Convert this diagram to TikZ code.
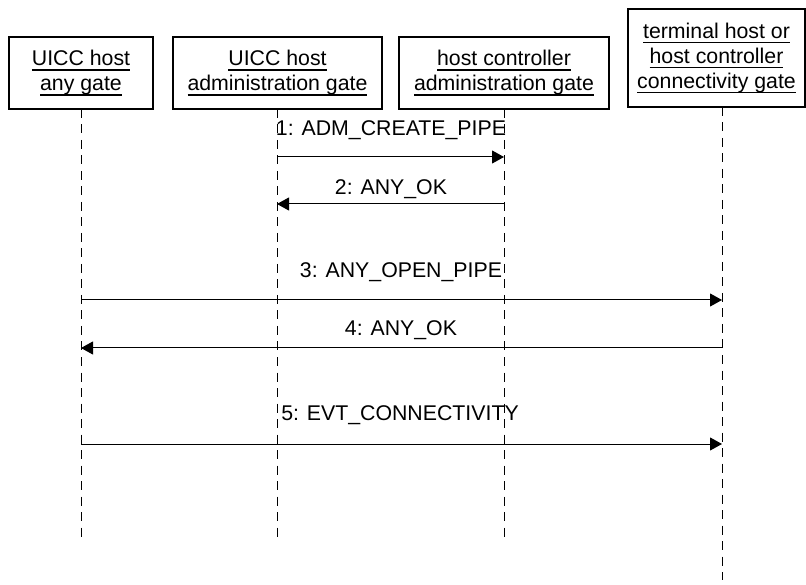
\documentclass[tikz,border=0pt]{standalone}
\usepackage{fontspec}
\setmainfont{Liberation Sans}
\usetikzlibrary{arrows.meta}
\newsavebox\ulbox
\newcommand{\ulin}[1]{\sbox\ulbox{#1}\rlap{\rule[-4.8pt]{\wd\ulbox}{1.2pt}}\usebox\ulbox}
\begin{document}
\begin{tikzpicture}[x=1pt,y=-1pt,
  every node/.style={font=\fontsize{21.3}{25}\selectfont},
  obj/.style={draw, line width=1.1pt, align=center, inner sep=0pt, minimum height=72pt},
  life/.style={line width=1pt, dash pattern=on 9pt off 6.5pt},
  msg/.style={line width=1pt, -{Triangle[length=12pt,width=13pt]}},
  lbl/.style={anchor=base, inner sep=0pt}]
\useasboundingbox (0,0) rectangle (806,585);
% objects
\node[obj, minimum width=144pt] (b1) at (81,73) {\ulin{UICC host}\\\ulin{any gate}};
\node[obj, minimum width=209pt] (b2) at (277.5,73) {\ulin{UICC host}\\\ulin{administration gate}};
\node[obj, minimum width=210pt] (b3) at (504,73) {\ulin{host controller}\\\ulin{administration gate}};
\node[obj, minimum width=177pt, minimum height=98pt] (b4) at (716.5,58) {\ulin{terminal host or}\\\ulin{host controller}\\\ulin{connectivity gate}};
% lifelines
\coordinate (l1t) at (81,109);  \coordinate (l1b) at (81,537);
\coordinate (l2t) at (277,109); \coordinate (l2b) at (277,537);
\coordinate (l3t) at (504,109); \coordinate (l3b) at (504,537);
\coordinate (l4t) at (722,107); \coordinate (l4b) at (722,580);
\draw[life] (l1t) -- (l1b);
\draw[life] (l2t) -- (l2b);
\draw[life] (l3t) -- (l3b);
\draw[life] (l4t) -- (l4b);
% message points
\coordinate (m1a) at (277,157); \coordinate (m1b) at (504,157);
\coordinate (m2a) at (504,204); \coordinate (m2b) at (277,204);
\coordinate (m3a) at (81,300);  \coordinate (m3b) at (722,300);
\coordinate (m4a) at (722,348); \coordinate (m4b) at (81,348);
\coordinate (m5a) at (81,444);  \coordinate (m5b) at (722,444);
\draw[msg] (m1a) -- (m1b);
\draw[msg] (m2a) -- (m2b);
\draw[msg] (m3a) -- (m3b);
\draw[msg] (m4a) -- (m4b);
\draw[msg] (m5a) -- (m5b);
% labels
\node[lbl] (t1) at (391,135.6) {1: ADM\_CREATE\_PIPE};
\node[lbl] (t2) at (391,194.6) {2: ANY\_OK};
\node[lbl] (t3) at (401,277.6) {3: ANY\_OPEN\_PIPE};
\node[lbl] (t4) at (401,335.6) {4: ANY\_OK};
\node[lbl] (t5) at (400,420.6) {5: EVT\_CONNECTIVITY};
\end{tikzpicture}
\end{document}
